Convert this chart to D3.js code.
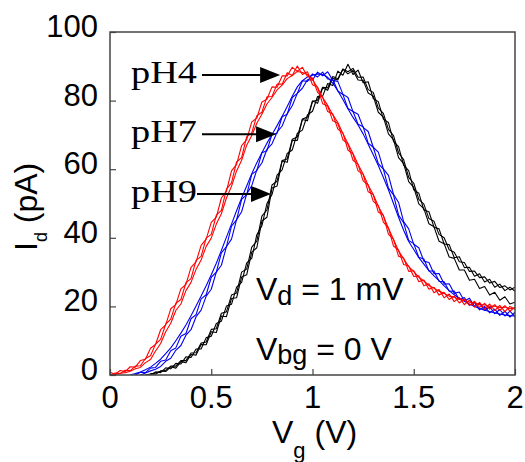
<!DOCTYPE html>
<html>
<head>
<meta charset="utf-8">
<script src="https://cdn.jsdelivr.net/npm/d3@7/dist/d3.min.js"></script>
<style>
  body { margin: 0; background: #fff; }
  svg { display: block; }
  .tick-label { font-family: "Liberation Sans", Arial, sans-serif; font-size: 31px; fill: #000; }
  .lab { font-family: "Liberation Sans", Arial, sans-serif; font-size: 32px; fill: #000; }
  .ph { font-family: "Liberation Serif", "Times New Roman", serif; font-size: 32px; fill: #000; }
</style>
</head>
<body>
<div id="chart-area"></div>
<script>
// gate voltage grid (V)
var vg = [0, 0.025, 0.05, 0.075, 0.1, 0.125, 0.15, 0.175, 0.2, 0.225,
  0.25, 0.275, 0.3, 0.325, 0.35, 0.375, 0.4, 0.425, 0.45, 0.475,
  0.5, 0.525, 0.55, 0.575, 0.6, 0.625, 0.65, 0.675, 0.7, 0.725,
  0.75, 0.775, 0.8, 0.825, 0.85, 0.875, 0.9, 0.925, 0.95, 0.975,
  1.0, 1.025, 1.05, 1.075, 1.1, 1.125, 1.15, 1.175, 1.2, 1.225,
  1.25, 1.275, 1.3, 1.325, 1.35, 1.375, 1.4, 1.425, 1.45, 1.475,
  1.5, 1.525, 1.55, 1.575, 1.6, 1.625, 1.65, 1.675, 1.7, 1.725,
  1.75, 1.775, 1.8, 1.825, 1.85, 1.875, 1.9, 1.925, 1.95, 1.975,
  2.0];

// drain current (pA), pH4 sweeps
var pH4 = [
  [0, 0.6, 0.4, 1.4, 1.3, 2.6, 2.7, 4.8, 5.6, 9.0,
   10.4, 14.8, 16.3, 20.9, 22.0, 26.9, 28.1, 33.4, 34.6, 39.9,
   41.0, 46.6, 48.0, 54.2, 56.0, 62.1, 63.4, 69.5, 70.6, 75.6,
   76.6, 81.1, 81.2, 84.8, 84.8, 88.1, 87.3, 90.1, 87.6, 88.4,
   84.6, 83.9, 79.1, 78.4, 74.1, 73.4, 68.6, 67.4, 62.6, 61.4,
   56.6, 55.4, 50.6, 49.4, 44.6, 42.9, 37.6, 36.4, 32.2, 31.8,
   28.7, 28.9, 26.0, 26.6, 24.0, 24.9, 22.5, 23.6, 21.4, 22.6,
   20.5, 21.8, 19.8, 21.2, 19.2, 20.7, 18.8, 20.3, 18.5, 20.0,
   19.2],
  [0.8, 0.2, 1.3, 1.0, 2.4, 2.3, 4.2, 4.6, 7.8, 8.9,
   13.2, 14.6, 19.3, 20.5, 25.1, 26.4, 31.4, 33.0, 37.8, 39.6,
   44.5, 46.0, 51.6, 53.6, 59.5, 61.4, 66.9, 68.6, 73.8, 74.9,
   79.6, 80.4, 84.0, 83.9, 87.2, 87.2, 89.7, 88.6, 89.7, 87.0,
   86.6, 82.4, 81.0, 76.8, 76.1, 71.7, 70.6, 65.6, 64.4, 59.5,
   58.5, 53.4, 52.6, 47.5, 46.6, 41.0, 39.6, 34.6, 34.1, 30.2,
   30.4, 27.2, 27.7, 25.0, 25.6, 23.3, 24.1, 22.0, 23.0, 21.0,
   22.1, 20.3, 21.5, 19.7, 20.9, 19.2, 20.5, 18.8, 20.2, 18.6,
   19.8],
  [0, 0.1, 0.5, 0.7, 1.1, 1.8, 2.2, 3.6, 4.5, 7.0,
   9.2, 12.6, 15.1, 18.8, 20.7, 24.6, 27.0, 30.8, 33.5, 37.5,
   39.9, 44.0, 47.0, 51.6, 55.0, 59.5, 62.6, 67.0, 69.8, 73.4,
   76.0, 79.0, 80.9, 83.1, 84.5, 86.4, 87.3, 88.5, 88.2, 87.6,
   86.1, 83.8, 80.9, 78.6, 75.9, 73.6, 70.4, 67.5, 64.6, 61.4,
   58.6, 55.3, 52.6, 49.2, 46.4, 42.8, 39.5, 36.2, 33.9, 31.6,
   30.2, 28.5, 27.4, 26.1, 25.3, 24.4, 23.8, 23.0, 22.7, 22.0,
   21.8, 21.2, 21.1, 20.5, 20.5, 20.0, 20.1, 19.6, 19.8, 19.3,
   19.5]
];

// pH7 sweeps
var pH7 = [
  [null, null, null, null, null, 0, 0.8, 0.7, 2.0, 2.2,
   4.0, 4.4, 7.1, 7.9, 11.3, 12.1, 16.4, 17.6, 22.2, 23.4,
   28.5, 30.0, 35.6, 37.4, 43.4, 45.2, 51.2, 52.6, 58.5, 59.6,
   64.8, 65.4, 70.2, 70.5, 75.3, 76.0, 80.9, 82.1, 85.8, 85.6,
   87.8, 86.9, 88.3, 86.3, 86.2, 82.8, 81.8, 77.7, 76.8, 73.1,
   72.4, 67.6, 66.4, 61.6, 60.0, 54.5, 52.5, 46.6, 44.4, 39.2,
   38.3, 34.3, 33.8, 30.3, 30.3, 27.3, 27.2, 24.4, 24.5, 22.0,
   22.6, 20.3, 21.1, 19.0, 20.0, 18.1, 19.2, 17.4, 18.6, 16.9,
   18.3],
  [null, null, null, null, 0, 0.4, 0.9, 1.5, 2.3, 3.4,
   4.6, 6.2, 7.9, 10.0, 12.2, 14.6, 17.3, 20.1, 23.0, 26.0,
   29.2, 32.6, 36.3, 40.2, 44.0, 47.9, 51.6, 55.1, 58.7, 61.9,
   64.8, 67.6, 70.1, 72.7, 75.4, 78.3, 81.3, 84.0, 85.8, 86.9,
   87.4, 87.8, 87.6, 86.8, 85.1, 82.9, 80.3, 77.6, 75.1, 72.9,
   70.3, 67.3, 64.2, 61.1, 57.6, 54.0, 50.0, 46.0, 42.2, 38.9,
   36.6, 34.2, 32.3, 30.4, 28.9, 27.5, 26.0, 24.6, 23.4, 22.3,
   21.5, 20.7, 20.0, 19.4, 18.9, 18.5, 18.1, 17.8, 17.5, 17.3,
   17.2],
  [null, null, null, null, null, null, 0, 0.6, 1.2, 1.7,
   2.5, 4.0, 4.9, 7.2, 8.6, 11.6, 13.2, 17.0, 18.9, 23.0,
   25.0, 30.0, 32.0, 37.4, 39.6, 45.3, 47.6, 52.8, 55.2, 59.8,
   61.8, 65.8, 67.4, 70.8, 72.6, 76.2, 78.5, 82.1, 83.6, 86.1,
   86.0, 88.3, 87.2, 88.4, 85.9, 85.6, 81.9, 80.9, 76.8, 76.0,
   72.2, 71.0, 66.4, 65.0, 60.1, 58.2, 52.7, 50.3, 44.7, 42.6,
   38.1, 37.1, 33.2, 32.8, 29.5, 29.6, 26.5, 26.6, 23.8, 24.2,
   21.6, 22.4, 20.0, 20.9, 18.8, 19.9, 17.9, 19.1, 17.2, 18.6,
   17.0]
];

// pH9 sweeps
var pH9 = [
  [null, null, null, null, null, null, null, null, 0, 0.9,
   0.7, 2.1, 1.8, 3.4, 3.2, 5.3, 5.1, 7.6, 7.6, 10.9,
   11.3, 15.0, 15.7, 20.1, 20.6, 25.6, 27.0, 32.7, 34.0, 40.9,
   43.5, 50.0, 52.6, 58.3, 59.8, 64.6, 65.6, 70.5, 71.4, 75.8,
   76.9, 81.2, 81.3, 85.0, 84.4, 88.6, 87.4, 90.6, 87.6, 88.9,
   85.2, 85.5, 80.6, 79.7, 74.6, 73.6, 68.1, 66.6, 61.2, 59.6,
   54.0, 53.0, 48.1, 47.6, 43.1, 42.6, 38.2, 38.0, 34.2, 34.5,
   31.3, 31.4, 28.8, 29.5, 27.1, 27.9, 25.6, 26.5, 24.6, 25.6,
   24.4],
  [null, null, null, null, null, null, null, null, 0.4, 0.2,
   1.2, 1.0, 2.4, 2.0, 3.9, 3.6, 6.0, 5.8, 8.9, 8.8,
   12.6, 12.4, 17.2, 17.0, 22.3, 22.5, 28.6, 29.2, 35.8, 37.1,
   44.9, 46.0, 54.5, 55.1, 62.4, 62.0, 68.4, 68.4, 74.5, 74.1,
   79.9, 79.2, 83.7, 83.0, 86.5, 86.0, 89.2, 88.4, 89.4, 86.8,
   86.9, 83.2, 82.4, 77.8, 76.3, 71.6, 69.8, 64.8, 62.8, 57.6,
   55.9, 51.2, 49.8, 45.6, 44.8, 41.0, 40.0, 36.5, 35.8, 33.0,
   32.8, 30.2, 30.3, 28.4, 28.6, 26.8, 27.3, 25.5, 26.0, 24.8,
   25.6],
  [null, null, null, null, null, null, null, 0, 0.3, 0.6,
   1.1, 1.4, 2.6, 2.6, 4.2, 4.2, 6.4, 6.5, 9.3, 9.6,
   13.3, 13.5, 18.0, 18.4, 23.3, 23.9, 30.0, 30.9, 37.3, 39.0,
   46.3, 48.1, 55.4, 56.5, 62.5, 63.0, 68.7, 69.4, 74.6, 75.2,
   79.8, 80.1, 83.9, 83.7, 87.0, 86.4, 89.1, 87.8, 88.8, 86.0,
   85.9, 82.2, 81.3, 76.6, 75.2, 70.3, 68.6, 63.4, 61.6, 56.4,
   54.7, 49.9, 48.5, 44.1, 43.2, 39.0, 38.3, 34.4, 34.0, 30.6,
   30.6, 27.6, 27.9, 25.2, 25.8, 23.3, 24.1, 21.8, 22.8, 20.7,
   21.2]
];

var xTicks = [0, 0.5, 1, 1.5, 2];
var xTickLabels = ["0", "0.5", "1", "1.5", "2"];
var yTicks = [0, 20, 40, 60, 80, 100];

// arrows: label text and the point (Vg, Id) the arrow head touches
var phLabels = ["pH4", "pH7", "pH9"];
var arrowTips = [[0.84, 87.5], [0.82, 70.2], [0.795, 52.8]];

var W = 525, H = 462;
var x = d3.scaleLinear().domain([0, 2]).range([110, 515]);
var y = d3.scaleLinear().domain([0, 100]).range([375, 32]);

var svg = d3.select("#chart-area").append("svg")
  .attr("width", W)
  .attr("height", H);

svg.append("defs").append("clipPath")
  .attr("id", "plot-clip")
  .append("rect")
    .attr("x", x(0))
    .attr("y", y(100))
    .attr("width", x(2) - x(0))
    .attr("height", y(0) - y(100));

var line = d3.line()
  .defined(function(d){ return d != null; })
  .x(function(d, i){ return x(vg[i]); })
  .y(function(d){ return y(d); });

var traces = svg.append("g").attr("clip-path", "url(#plot-clip)");

var groups = [
  { data: pH9, color: "#000000" },
  { data: pH7, color: "#0000f0" },
  { data: pH4, color: "#ff0000" }
];

groups.forEach(function(grp){
  traces.selectAll(null)
    .data(grp.data)
    .enter()
    .append("path")
      .attr("d", line)
      .attr("fill", "none")
      .attr("stroke", grp.color)
      .attr("stroke-width", 1.1)
      .attr("stroke-linejoin", "round");
});

// frame
svg.append("rect")
  .attr("x", x(0))
  .attr("y", y(100))
  .attr("width", x(2) - x(0))
  .attr("height", y(0) - y(100))
  .attr("fill", "none")
  .attr("stroke", "#444")
  .attr("stroke-width", 1.5);

// inward ticks
var yAxis = d3.axisRight(y).tickValues(yTicks).tickSize(6).tickFormat("");
svg.append("g")
  .attr("transform", "translate(" + x(0) + ",0)")
  .call(yAxis)
  .call(function(g){ g.select(".domain").remove(); })
  .selectAll("line").attr("stroke", "#444").attr("stroke-width", 1.2);

var xAxis = d3.axisTop(x).tickValues(xTicks).tickSize(6).tickFormat("");
svg.append("g")
  .attr("transform", "translate(0," + y(0) + ")")
  .call(xAxis)
  .call(function(g){ g.select(".domain").remove(); })
  .selectAll("line").attr("stroke", "#444").attr("stroke-width", 1.2);

// tick labels
svg.selectAll(".ytl")
  .data(yTicks)
  .enter()
  .append("text")
    .attr("class", "tick-label")
    .attr("x", 98)
    .attr("y", function(d){ return y(d) + 5; })
    .attr("text-anchor", "end")
    .text(function(d){ return d; });

svg.selectAll(".xtl")
  .data(xTicks)
  .enter()
  .append("text")
    .attr("class", "tick-label")
    .attr("x", function(d){ return x(d); })
    .attr("y", 408)
    .attr("text-anchor", "middle")
    .text(function(d, i){ return xTickLabels[i]; });

// axis labels
var xl = svg.append("text")
  .attr("class", "lab")
  .attr("x", 272)
  .attr("y", 443);
xl.append("tspan").text("V");
xl.append("tspan").attr("dy", 15).attr("font-size", "22px").text("g");
xl.append("tspan").attr("dy", -15).text(" (V)");

var yl = svg.append("text")
  .attr("class", "lab")
  .attr("transform", "translate(37,251) rotate(-90)");
yl.append("tspan").text("I");
yl.append("tspan").attr("dy", 10).attr("font-size", "18px").text("d");
yl.append("tspan").attr("dy", -10).text(" (pA)");

// conditions
var t1 = svg.append("text").attr("class", "lab").attr("x", 256).attr("y", 300);
t1.append("tspan").text("V");
t1.append("tspan").attr("dy", 5).attr("font-size", "27px").text("d");
t1.append("tspan").attr("dy", -5).text(" = 1 mV");

var t2 = svg.append("text").attr("class", "lab").attr("x", 256).attr("y", 360);
t2.append("tspan").text("V");
t2.append("tspan").attr("dy", 4).attr("font-size", "27px").text("bg");
t2.append("tspan").attr("dy", -4).text(" = 0 V");

// pH labels with arrows
var labelX = 131;
phLabels.forEach(function(lbl, i){
  var tip = arrowTips[i];
  var tx = x(tip[0]), ty = y(tip[1]);
  svg.append("text")
    .attr("class", "ph")
    .attr("x", labelX)
    .attr("y", ty + 8)
    .attr("textLength", 66)
    .attr("lengthAdjust", "spacingAndGlyphs")
    .text(lbl);
  svg.append("line")
    .attr("x1", i == 2 ? 197 : 202)
    .attr("y1", ty)
    .attr("x2", tx - 18)
    .attr("y2", ty)
    .attr("stroke", "#000")
    .attr("stroke-width", 2);
  svg.append("path")
    .attr("d", "M" + tx + "," + ty + " L" + (tx - 20) + "," + (ty - 8) + " L" + (tx - 20) + "," + (ty + 8) + " Z")
    .attr("fill", "#000");
});
</script>
</body>
</html>
